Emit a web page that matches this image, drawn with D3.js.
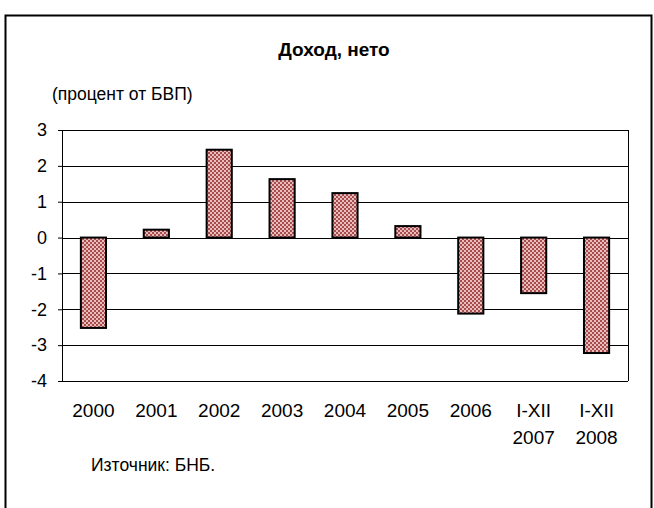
<!DOCTYPE html>
<html>
<head>
<meta charset="utf-8">
<script src="https://cdn.jsdelivr.net/npm/d3@7"></script>
<style>
  body { margin: 0; background: #fff; }
  svg { display: block; font-family: "Liberation Sans", Arial, sans-serif; }
</style>
</head>
<body>
<script>
// data
var categories = ["2000", "2001", "2002", "2003", "2004", "2005", "2006", "I-XII 2007", "I-XII 2008"];
var values = [-2.52, 0.22, 2.45, 1.63, 1.24, 0.32, -2.12, -1.55, -3.22];
var yTicks = [-4, -3, -2, -1, 0, 1, 2, 3];

var svgWidth = 654, svgHeight = 508;
var margin = { top: 130, right: 26, bottom: 127, left: 62 };
var chartWidth = svgWidth - margin.left - margin.right;
var chartHeight = svgHeight - margin.top - margin.bottom;

var svg = d3.select("body").append("svg")
  .attr("width", svgWidth)
  .attr("height", svgHeight);

// checkered fill like the original hatch
var defs = svg.append("defs");
var pat = defs.append("pattern")
  .attr("id", "checker")
  .attr("width", 4).attr("height", 4)
  .attr("patternUnits", "userSpaceOnUse");
pat.append("rect").attr("width", 4).attr("height", 4).attr("fill", "#e6bcbc");
pat.append("rect").attr("width", 2).attr("height", 2).attr("fill", "#a84c4c");
pat.append("rect").attr("x", 2).attr("y", 2).attr("width", 2).attr("height", 2).attr("fill", "#a84c4c");

// outer frame
svg.append("rect")
  .attr("x", 5.5).attr("y", 15.5)
  .attr("width", 646).attr("height", 500)
  .attr("fill", "none")
  .attr("stroke", "#000")
  .attr("stroke-width", 2);

svg.append("text")
  .attr("x", 334).attr("y", 56)
  .attr("text-anchor", "middle")
  .attr("font-size", 19)
  .attr("font-weight", "bold")
  .text("Доход, нето");

svg.append("text")
  .attr("x", 52).attr("y", 100)
  .attr("font-size", 17.5)
  .text("(процент от БВП)");

var g = svg.append("g")
  .attr("transform", `translate(${margin.left}, ${margin.top})`);

var x = d3.scaleBand()
  .domain(categories)
  .range([0, chartWidth])
  .paddingInner(0.6)
  .paddingOuter(0.3);

var y = d3.scaleLinear()
  .domain([-4, 3])
  .range([chartHeight, 0]);

// gridlines
g.selectAll(".grid")
  .data(yTicks)
  .enter()
  .append("line")
  .attr("x1", 0).attr("x2", chartWidth)
  .attr("y1", d => Math.round(y(d)) + 0.5)
  .attr("y2", d => Math.round(y(d)) + 0.5)
  .attr("stroke", "#000")
  .attr("stroke-width", 1);

// right border of plot area
g.append("line")
  .attr("x1", chartWidth + 0.5).attr("x2", chartWidth + 0.5)
  .attr("y1", 0).attr("y2", chartHeight)
  .attr("stroke", "#000");

// left axis
var leftAxis = d3.axisLeft(y).tickValues(yTicks).tickSize(4).tickPadding(11).tickFormat(d3.format("d"));
var ya = g.append("g").call(leftAxis);
ya.select(".domain").attr("stroke", "#000");
ya.selectAll("text")
  .attr("font-size", 18)
  .attr("fill", "#000")
  .attr("font-family", "Liberation Sans, Arial, sans-serif")
  .text(d => d < 0 ? "-" + Math.abs(d) : d);

// bars
g.selectAll(".bar")
  .data(values)
  .enter()
  .append("rect")
  .attr("x", (d, i) => x(categories[i]))
  .attr("width", x.bandwidth())
  .attr("y", d => y(Math.max(0, d)))
  .attr("height", d => Math.abs(y(d) - y(0)))
  .attr("fill", "url(#checker)")
  .attr("stroke", "#000")
  .attr("stroke-width", 2);

// category labels, split on the space into two lines
var labels = g.selectAll(".xlab")
  .data(categories)
  .enter()
  .append("text")
  .attr("text-anchor", "middle")
  .attr("font-size", 19)
  .attr("y", chartHeight + 36);
labels.each(function(d) {
  var parts = d.split(" ");
  var t = d3.select(this);
  parts.forEach(function(p, k) {
    t.append("tspan")
      .attr("x", x(d) + x.bandwidth() / 2)
      .attr("dy", k === 0 ? 0 : 27)
      .text(p);
  });
});

svg.append("text")
  .attr("x", 91).attr("y", 471)
  .attr("font-size", 17.5)
  .text("Източник: БНБ.");
</script>
</body>
</html>
